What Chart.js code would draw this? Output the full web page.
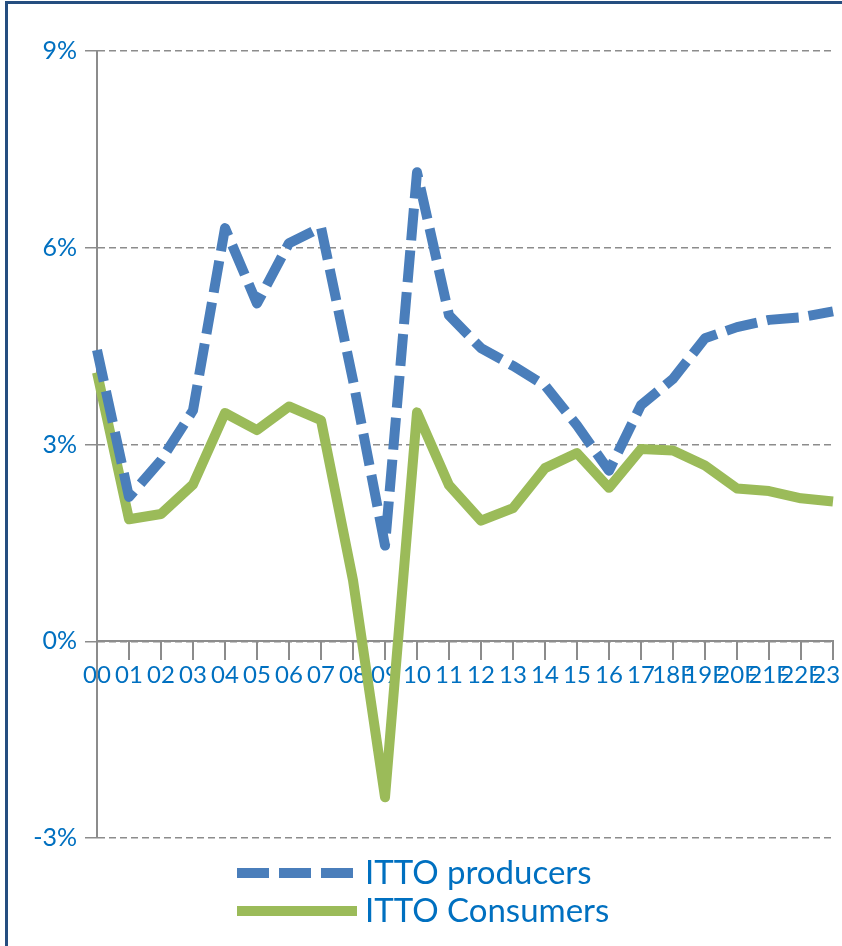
<!DOCTYPE html>
<html><head><meta charset="utf-8">
<script src="https://cdn.jsdelivr.net/npm/chart.js@4/dist/chart.umd.min.js"></script>
<style>
html,body{margin:0;padding:0;background:#fff;overflow:hidden;width:842px;height:946px;}
#frame{position:absolute;left:5px;top:1px;width:900px;height:1000px;border-left:3px solid #254e80;border-top:3px solid #254e80;}
canvas{position:absolute;left:0;top:0;}
</style></head><body>
<div id="frame"><canvas id="c" width="834" height="942"></canvas></div>
<script>
const categories = ['00','01','02','03','04','05','06','07','08','09','10','11','12','13','14','15','16','17','18F','19F','20F','21F','22F','23F'];
const producers = [4.44, 2.20, 2.76, 3.52, 6.30, 5.15, 6.07, 6.31, 3.98, 1.46, 7.15, 4.97, 4.47, 4.20, 3.90, 3.29, 2.60, 3.60, 4.00, 4.62, 4.79, 4.90, 4.94, 5.03];
const consumers = [4.10, 1.86, 1.94, 2.39, 3.48, 3.22, 3.58, 3.37, 0.93, -2.38, 3.49, 2.38, 1.84, 2.03, 2.64, 2.87, 2.34, 2.93, 2.91, 2.68, 2.33, 2.29, 2.18, 2.13];
const seriesNames = ['ITTO producers', 'ITTO Consumers'];
const yMin = -3, yMax = 9, yStep = 3;

const BLUE = '#4a7ebb', GREEN = '#9bbb59', TEXT = '#0070c0', GRID = '#8c8c8c';

const legendPlugin = {
  id: 'customLegend',
  afterDraw(chart) {
    const ctx = chart.ctx;
    const ca = chart.chartArea;
    const x0 = ca.left + 140, x1 = x0 + 120;
    const rows = [ca.bottom + 35, ca.bottom + 73];
    chart.data.datasets.forEach((ds, i) => {
      const y = rows[i];
      ctx.save();
      ctx.strokeStyle = ds.borderColor;
      ctx.lineWidth = ds.borderWidth;
      ctx.setLineDash(ds.borderDash || []);
      ctx.lineCap = 'butt';
      ctx.beginPath();
      ctx.moveTo(x0, y);
      ctx.lineTo(ds.borderDash ? x1 - 4 : x1, y);
      ctx.stroke();
      ctx.setLineDash([]);
      ctx.fillStyle = TEXT;
      ctx.font = '33px Lato';
      ctx.textBaseline = 'middle';
      ctx.textAlign = 'left';
      ctx.fillText(ds.label, x1 + 8, y);
      ctx.restore();
    });
  }
};

new Chart(document.getElementById('c'), {
  type: 'line',
  data: {
    labels: categories,
    datasets: [
      { label: seriesNames[0], data: producers, borderColor: BLUE, backgroundColor: BLUE, borderWidth: 10, borderDash: [32, 10], pointRadius: 0, tension: 0, borderJoinStyle: 'round', fill: false },
      { label: seriesNames[1], data: consumers, borderColor: GREEN, backgroundColor: GREEN, borderWidth: 10, pointRadius: 0, tension: 0, borderJoinStyle: 'round', fill: false }
    ]
  },
  options: {
    responsive: false,
    animation: false,
    devicePixelRatio: 1,
    layout: { padding: { top: 47, right: 9, bottom: 108, left: 0 } },
    plugins: { legend: { display: false }, tooltip: { enabled: false } },
    scales: {
      x: {
        type: 'category',
        position: { y: 0 },
        offset: false,
        grid: { display: true, drawOnChartArea: false, drawTicks: true, tickLength: 18, color: GRID, lineWidth: 2 },
        border: { display: true, color: GRID, width: 2 },
        ticks: { color: TEXT, font: { family: 'Lato', size: 24 }, autoSkip: false, maxRotation: 0, minRotation: 0, padding: 2 },
        afterFit(scale) { scale.paddingLeft = 0; scale.paddingRight = 0; }
      },
      y: {
        min: yMin, max: yMax,
        grid: { color: GRID, lineWidth: 1.5, tickLength: 12, tickColor: GRID },
        border: { display: true, color: GRID, width: 2, dash: [7, 4] },
        ticks: { stepSize: yStep, color: TEXT, font: { family: 'Lato', size: 25 }, padding: 8, callback: v => v + '%' },
        afterFit(scale) { scale.width = 89; scale.paddingTop = 0; scale.paddingBottom = 0; }
      }
    }
  },
  plugins: [legendPlugin]
});
</script>
</body></html>
